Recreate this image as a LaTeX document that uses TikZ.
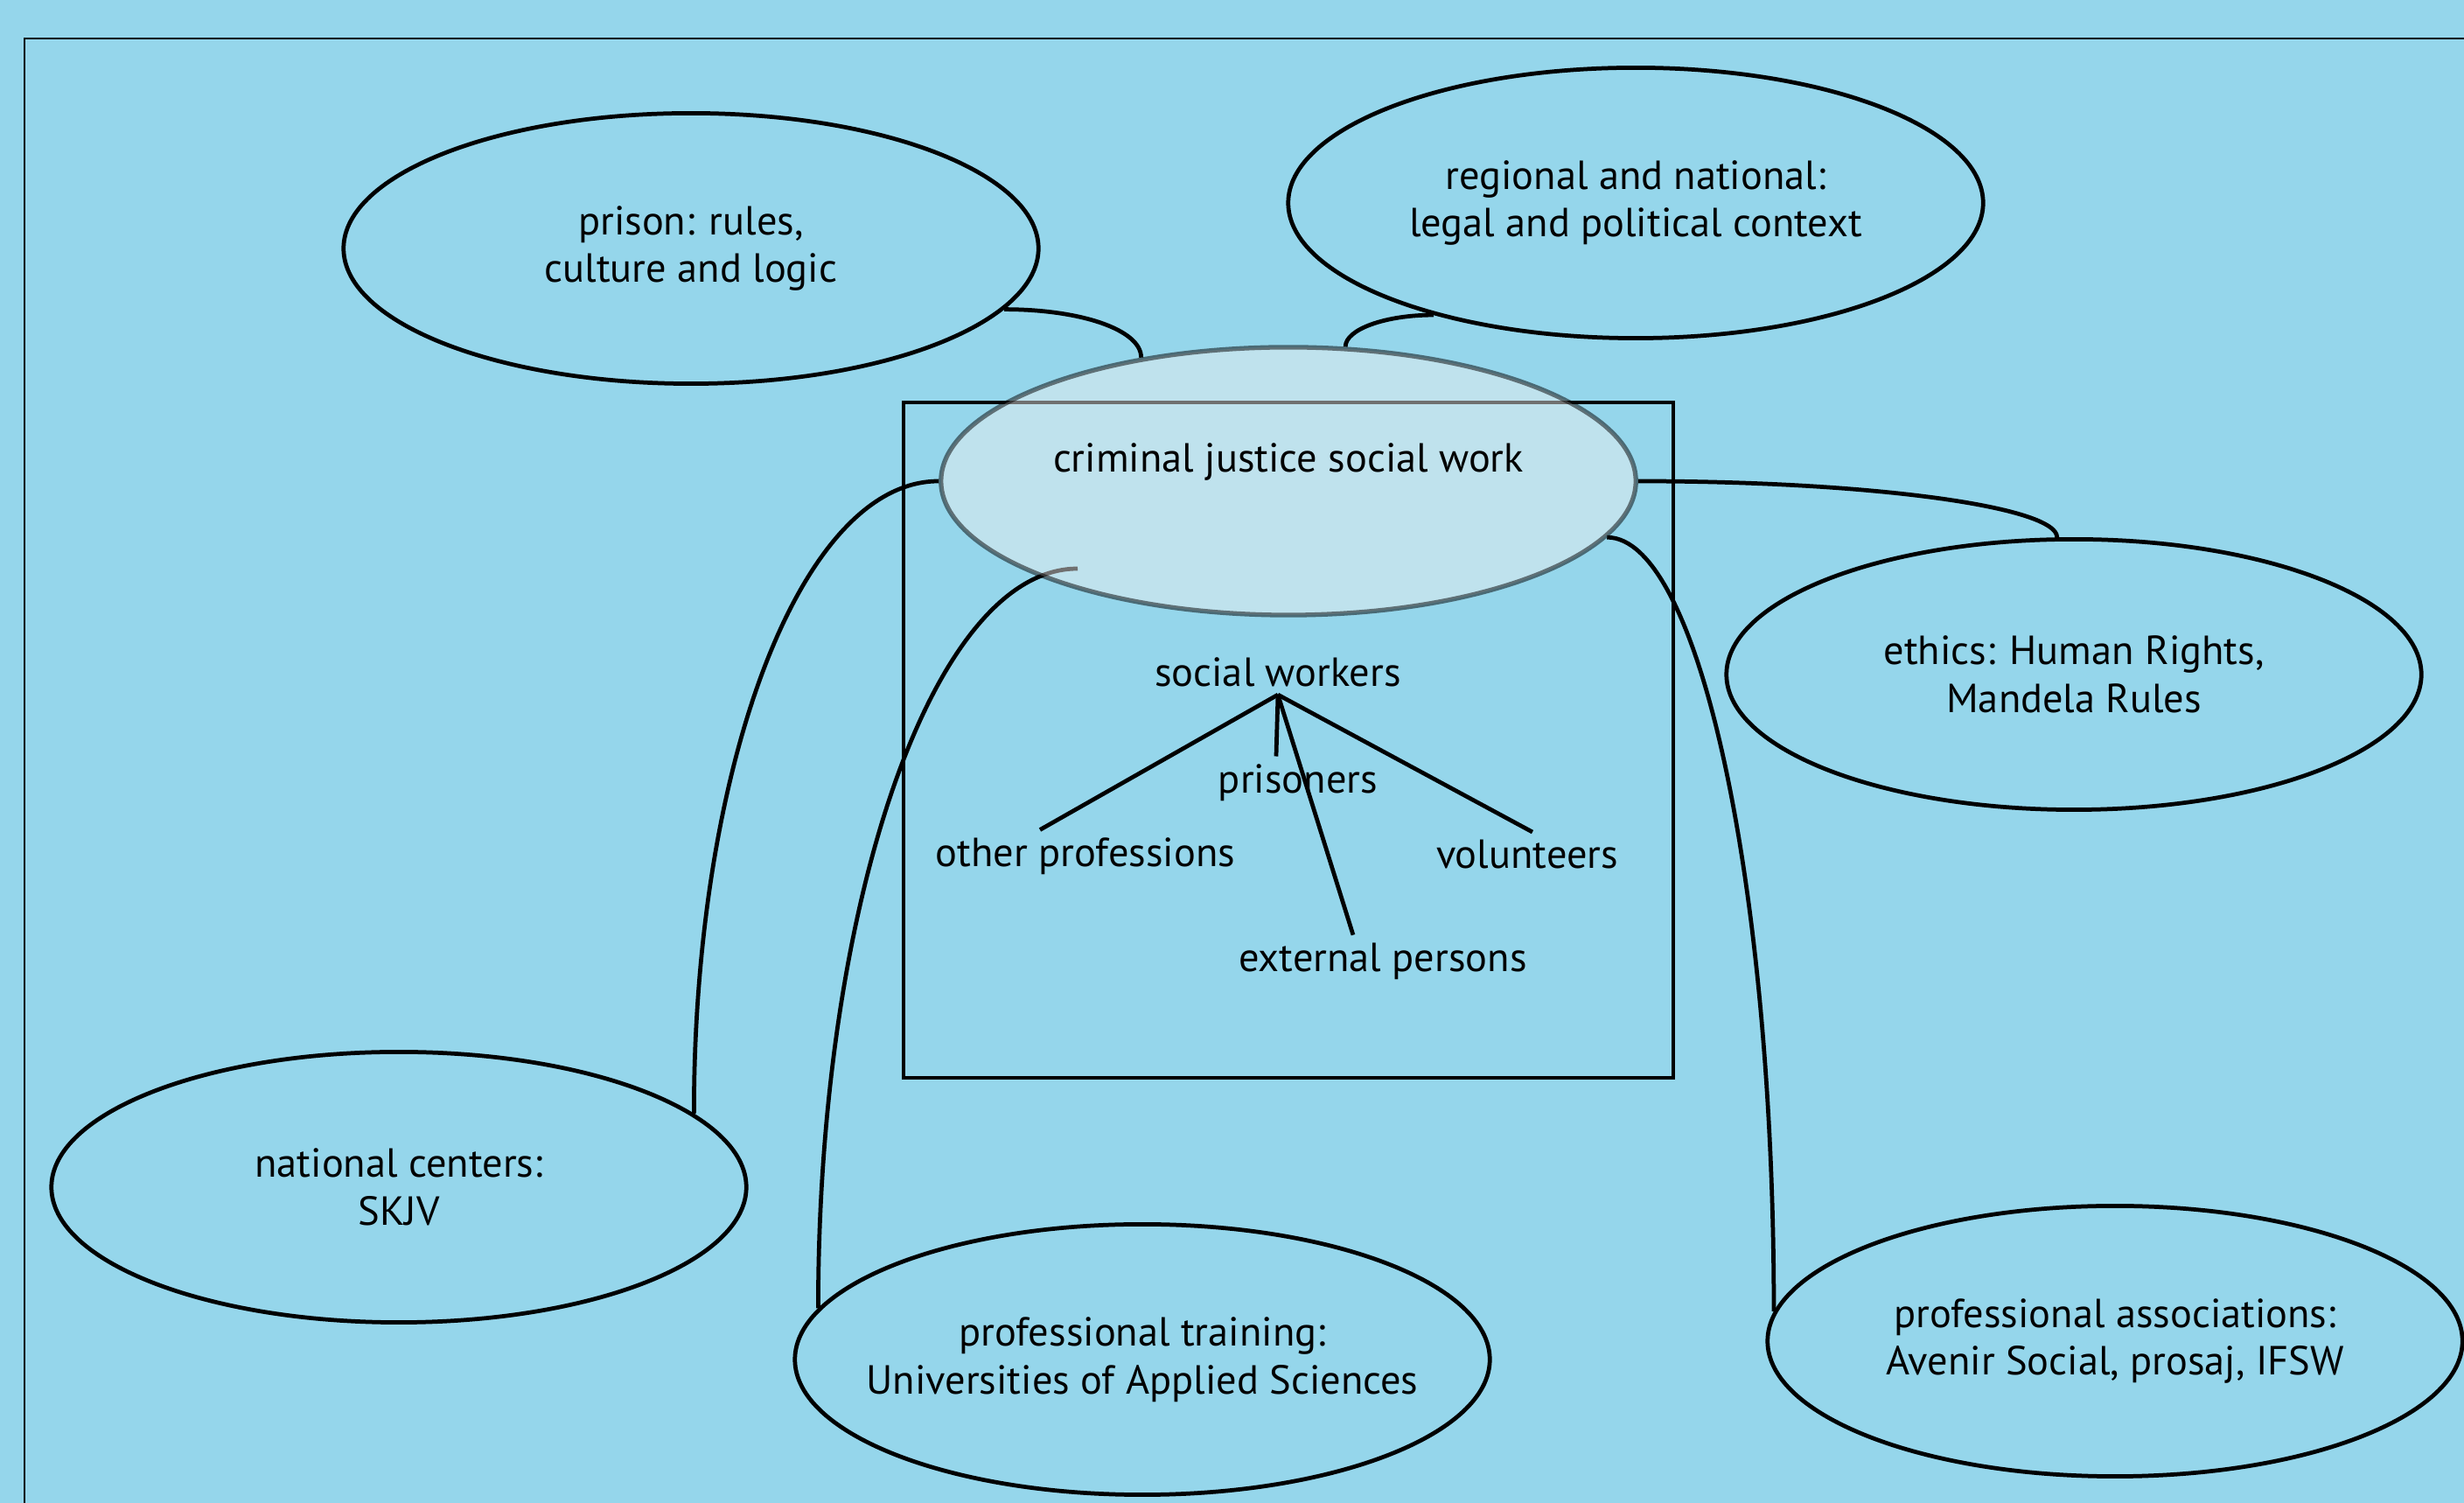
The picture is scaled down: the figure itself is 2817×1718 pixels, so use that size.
\documentclass[tikz,border=0pt]{standalone}
\usepackage{fontspec}
\setmainfont{PT Sans}
\usetikzlibrary{shapes.geometric}
\definecolor{bgblue}{RGB}{149,214,235}
\definecolor{hubfill}{RGB}{240,240,240}

\begin{document}
\begin{tikzpicture}[x=0.01cm,y=0.01cm,line width=1.35pt,
  every node/.style={font=\fontsize{13.2}{15.6}\selectfont},
  topic/.style={ellipse,draw,inner sep=0pt,inner xsep=-1cm,minimum width=7.94cm,minimum height=3.09cm,align=center},
  hub/.style={ellipse,draw=black,draw opacity=0.5,fill=hubfill,fill opacity=0.47,inner sep=0pt,minimum width=7.94cm,minimum height=3.06cm,line width=1.5pt},
  actor/.style={inner sep=2pt}]
  \fill[bgblue] (0,0) rectangle (2817,1718);
  \useasboundingbox (0,0) rectangle (2817,1718);
  \draw[line width=0.8pt] (28,-20) -- (28,1674) -- (2840,1674);

  \node[topic] (prison) at (790,1434) {prison: rules,\\culture and logic};
  \node[topic] (regional) at (1870,1486) {regional and national:\\legal and political context};
  \node[topic] (ethics) at (2371,947) {ethics: Human Rights,\\Mandela Rules};
  \node[topic] (national) at (456,361) {national centers:\\SKJV};
  \node[topic] (training) at (1306,164) {professional training:\\Universities of Applied Sciences};
  \node[topic] (assoc) at (2418,185) {professional associations:\\Avenir Social, prosaj, IFSW};

  \draw (1033,486) rectangle (1913,1258);

  % actors in criminal justice social work
  \node[actor] (sw) at (1461,950) {social workers};
  \node[actor] (oth) at (1241,739) {other professions};
  \node[actor] (pri) at (1484,823) {prisoners};
  \node[actor] (vol) at (1746,741) {volunteers};
  \node[actor] (ext) at (1581,619) {external persons};
  \draw (sw.south) -- ([xshift=-0.52cm]oth.north);
  \draw (sw.south) -- ([xshift=-0.25cm]pri.north);
  \draw (sw.south) -- ([xshift=-0.34cm]ext.north);
  \draw (sw.south) -- ([xshift=0.06cm]vol.north);

  \coordinate (trainend) at (1232,1068);
  \draw (trainend) .. controls +(-165,0) and +(0,464) .. (training.171);

  \node[hub] (cjsw) at (1473,1168) {};
  \node at ([yshift=0.22cm]cjsw.center) {criminal justice social work};

  \draw (prison.-11) .. controls +(87,0) and +(0,32) .. (cjsw.140);
  \draw (regional.-151) .. controls +(-55,0) and +(0,20) .. (cjsw.67);
  \draw (cjsw.east) .. controls +(266,0) and +(0,35) .. (ethics.97);
  \draw (cjsw.-10) .. controls +(105,0) and +(0,487) .. (assoc.175);
  \draw (cjsw.west) .. controls +(-158,0) and +(0,397) .. (national.14);
\end{tikzpicture}
\end{document}
